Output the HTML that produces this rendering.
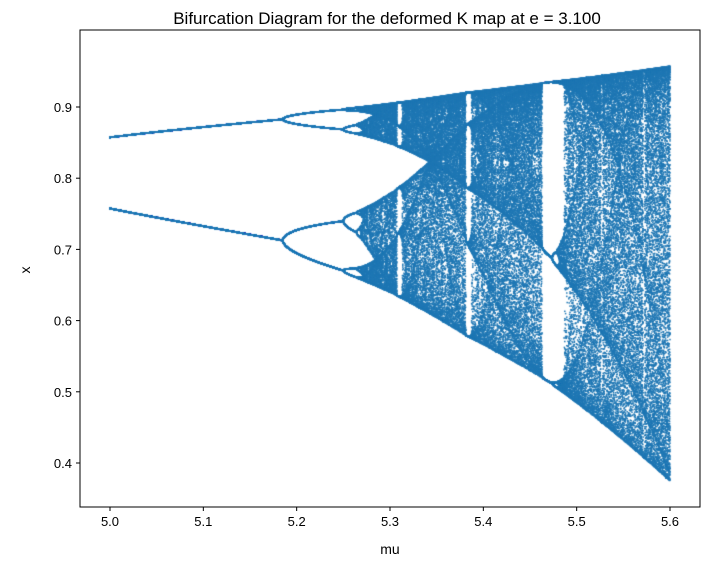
<!DOCTYPE html>
<html><head><meta charset="utf-8">
<style>
html,body{margin:0;padding:0;background:#fff;}
#wrap{position:relative;width:718px;height:561px;font-family:"Liberation Sans",sans-serif;}
canvas,svg{position:absolute;left:0;top:0;}
</style></head>
<body>
<div id="wrap">
<canvas id="cv" width="718" height="561"></canvas>
<svg id="sv" width="718" height="561"></svg>
</div>
<script>
// data / parameters
const xTicks = [5.0, 5.1, 5.2, 5.3, 5.4, 5.5, 5.6];
const yTicks = [0.4, 0.5, 0.6, 0.7, 0.8, 0.9];
const muRange = [5.0, 5.6];
const muSteps = 1400;
const transient = 500;
const keep = 120;
// calibration knots: mu -> logistic parameter r
const muKnots = [5.0, 5.185, 5.25, 5.308, 5.382, 5.463, 5.6];
const rKnots = [3.194, 3.449, 3.544, 3.627, 3.739, 3.8284, 3.995];
// calibration knots: mu -> output offset / scale
const scaleMu = [5.0, 5.185, 5.3, 5.47, 5.6];
const offsetKnots = [0.575, 0.530, 0.499, 0.436, 0.372];
const scaleKnots = [0.354, 0.415, 0.449, 0.52, 0.586];

const L=80,R=700,T=30,B=507;
const xs=v=>110+(v-5.0)*(560/0.6);
const ys=v=>463-(v-0.4)*(356/0.5);
function interp(mu,ks,vs){
  for(let i=0;i<ks.length-1;i++){
    if(mu<=ks[i+1]){const t=(mu-ks[i])/(ks[i+1]-ks[i]);return vs[i]+t*(vs[i+1]-vs[i]);}
  }
  return vs[vs.length-1];
}

const ctx=document.getElementById('cv').getContext('2d');
ctx.fillStyle='rgba(31,119,180,1)';
for(let i=0;i<=muSteps;i++){
  const mu=muRange[0]+(muRange[1]-muRange[0])*i/muSteps;
  const r=interp(mu,muKnots,rKnots);
  const a=interp(mu,scaleMu,offsetKnots);
  const b=interp(mu,scaleMu,scaleKnots);
  let x=0.31+0.2*(i%7)/7;
  for(let k=0;k<transient;k++)x=r*x*(1-x);
  for(let k=0;k<keep;k++){
    x=r*x*(1-x);
    const y=a+b*x;
    ctx.fillRect(xs(mu)-0.75,ys(y)-0.75,1.5,1.5);
  }
}

const sv=document.getElementById('sv');
const NS='http://www.w3.org/2000/svg';
function mk(tag,attrs,txt){const e=document.createElementNS(NS,tag);for(const k in attrs)e.setAttribute(k,attrs[k]);if(txt!==undefined)e.textContent=txt;sv.appendChild(e);return e;}
const frame=mk('rect',{x:L,y:T,width:R-L,height:B-T,fill:'none',stroke:'#000','stroke-width':1});


xTicks.forEach(v=>{
  const tk=mk('line',{x1:xs(v),x2:xs(v),y1:B,y2:B+4,stroke:'#000'});
  
  
  const lb=mk('text',{x:xs(v),y:B+19,'font-size':13,'text-anchor':'middle'},v.toFixed(1));
  
  
});
yTicks.forEach(v=>{
  const tk=mk('line',{x1:L-4,x2:L,y1:ys(v),y2:ys(v),stroke:'#000'});
  
  
  const lb=mk('text',{x:L-8,y:ys(v)+5,'font-size':13,'text-anchor':'end'},v.toFixed(1));
  
  
});
const xt=mk('text',{x:390,y:554,'font-size':14,'text-anchor':'middle'},'mu');


const yt=mk('text',{x:30,y:270,'font-size':14,'text-anchor':'middle',transform:'rotate(-90 30 270)'},'x');


const tt=mk('text',{x:387,y:24,'font-size':17,'text-anchor':'middle'},'Bifurcation Diagram for the deformed K map at e = 3.100');


</script>
</body></html>
